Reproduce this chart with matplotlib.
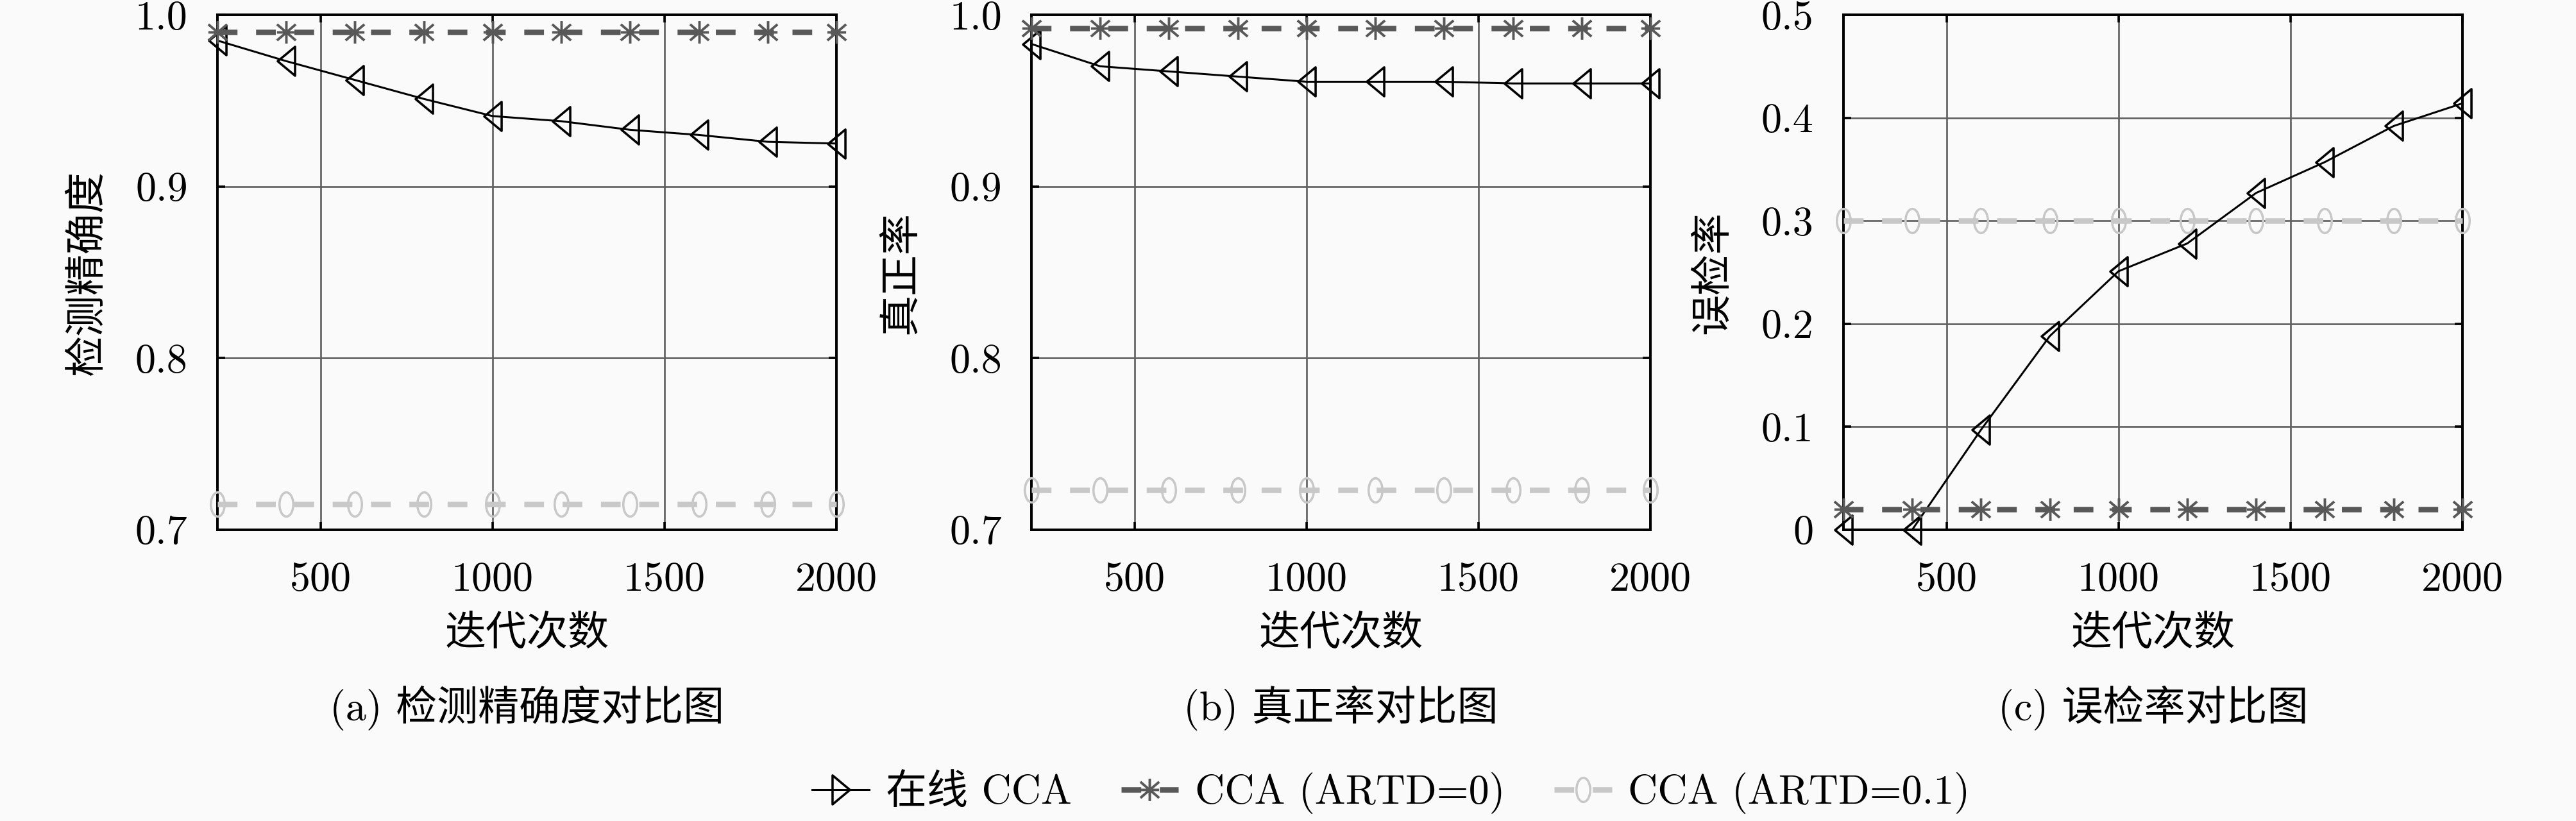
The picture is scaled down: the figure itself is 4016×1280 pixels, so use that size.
import matplotlib
matplotlib.use("Agg")
import matplotlib.pyplot as plt
from matplotlib.path import Path
from matplotlib.lines import Line2D
from matplotlib.ticker import FuncFormatter

plt.rcParams['font.family'] = ['cmr10', 'Noto Sans CJK SC', 'DejaVu Sans']
plt.rcParams['axes.unicode_minus'] = False

# 数据
iters = [200, 400, 600, 800, 1000, 1200, 1400, 1600, 1800, 2000]

acc_online = [0.985, 0.973, 0.962, 0.951, 0.941, 0.938, 0.933, 0.930, 0.926, 0.925]
acc_artd0 = [0.990, 0.990, 0.990, 0.990, 0.990, 0.990, 0.990, 0.990, 0.990, 0.990]
acc_artd01 = [0.715, 0.715, 0.715, 0.715, 0.715, 0.715, 0.715, 0.715, 0.715, 0.715]

tpr_online = [0.983, 0.970, 0.967, 0.964, 0.961, 0.961, 0.961, 0.960, 0.960, 0.960]
tpr_artd0 = [0.992, 0.992, 0.992, 0.992, 0.992, 0.992, 0.992, 0.992, 0.992, 0.992]
tpr_artd01 = [0.723, 0.723, 0.723, 0.723, 0.723, 0.723, 0.723, 0.723, 0.723, 0.723]

fpr_online = [0.0, 0.0, 0.097, 0.188, 0.251, 0.278, 0.327, 0.357, 0.392, 0.414]
fpr_artd0 = [0.02, 0.02, 0.02, 0.02, 0.02, 0.02, 0.02, 0.02, 0.02, 0.02]
fpr_artd01 = [0.30, 0.30, 0.30, 0.30, 0.30, 0.30, 0.30, 0.30, 0.30, 0.30]

series_names = ['在线 CCA', 'CCA (ARTD=0)', 'CCA (ARTD=0.1)']
ylabels = ['检测精确度', '真正率', '误检率']
captions = ['(a) 检测精确度对比图', '(b) 真正率对比图', '(c) 误检率对比图']
xticks = [500, 1000, 1500, 2000]
yticks_acc = [0.7, 0.8, 0.9, 1.0]
yticks_fpr = [0.0, 0.1, 0.2, 0.3, 0.4, 0.5]

# 拉长的标记形状
MV, LN, CL = Path.MOVETO, Path.LINETO, Path.CLOSEPOLY
tri_left = Path([(-0.3, 0), (0.3, 0.5), (0.3, -0.5), (-0.3, 0)], [MV, LN, LN, CL])
tri_right = Path([(0.3, 0), (-0.3, 0.5), (-0.3, -0.5), (0.3, 0)], [MV, LN, LN, CL])
circ = Path.unit_circle()
oval = Path(circ.vertices * [0.57, 1.0], circ.codes)
star = Path([(0, -0.5), (0, 0.5), (-0.42, -0.36), (0.42, 0.36), (-0.42, 0.36), (0.42, -0.36),
             (-0.42, 0), (0.42, 0)],
            [MV, LN, MV, LN, MV, LN, MV, LN])

c_dark = '#585858'
c_light = '#c8c8c8'
bg = '#fafafa'

dark_kw = dict(color=c_dark, lw=2.4, dashes=(3.6, 3.4), marker=star, ms=9.8,
               mfc='none', mec=c_dark, mew=1.1)
light_kw = dict(color=c_light, lw=2.4, dashes=(3.6, 3.4), marker=oval, ms=10.6,
                mfc='none', mec=c_light, mew=1.0)

fig = plt.figure(figsize=(4016 / 256, 1280 / 256), dpi=256, facecolor=bg)
lefts = [0.0844, 0.4004, 0.7156]
panels = [
    (acc_online, acc_artd0, acc_artd01, (0.7, 1.0), yticks_acc),
    (tpr_online, tpr_artd0, tpr_artd01, (0.7, 1.0), yticks_acc),
    (fpr_online, fpr_artd0, fpr_artd01, (0.0, 0.5), yticks_fpr),
]

for i, (online, a0, a01, ylim, yt) in enumerate(panels):
    ax = fig.add_axes([lefts[i], 0.3547, 0.2403, 0.6273], facecolor=bg)
    ax.plot(iters, online, color='black', lw=0.85, marker=tri_left, ms=12.7,
            mfc='none', mec='black', mew=1.0, clip_on=False, zorder=3)
    ax.plot(iters, a0, clip_on=False, zorder=3, **dark_kw)
    ax.plot(iters, a01, clip_on=False, zorder=3, **light_kw)

    ax.set_xlim(200, 2000)
    ax.set_ylim(*ylim)
    ax.set_xticks(xticks)
    ax.set_yticks(yt)
    ax.yaxis.set_major_formatter(FuncFormatter(lambda v, p: '0' if abs(v) < 1e-9 else f'{v:.1f}'))
    ax.grid(True, color='#606060', lw=0.75)
    ax.set_axisbelow(True)
    for s in ax.spines.values():
        s.set_linewidth(1.1)
        s.set_color('black')
    ax.tick_params(axis='both', direction='in', top=True, right=True, length=3.5,
                   width=1.0, pad=13, labelsize=18)
    ax.tick_params(axis='x', pad=14)

    ax.set_xlabel('迭代次数', fontsize=18)
    ax.xaxis.label.set_va('center')
    ax.xaxis.set_label_coords(0.5, -0.204)
    ax.set_ylabel(ylabels[i], fontsize=18)
    ax.yaxis.label.set_va('center')
    ax.yaxis.set_label_coords(-0.21, 0.5)
    ax.text(0.5, -0.346, captions[i], transform=ax.transAxes, ha='center', va='center',
            fontsize=18)

handles = [
    Line2D([], [], color='black', lw=0.85, marker=tri_right, ms=12.7, mfc='none',
           mec='black', mew=1.0),
    Line2D([], [], **dark_kw),
    Line2D([], [], **light_kw),
]
fig.legend(handles, series_names, loc='center', bbox_to_anchor=(0.54, 0.034), ncol=3,
           frameon=False, fontsize=18, handlelength=1.4, columnspacing=1.2,
           handletextpad=0.4, borderaxespad=0)

fig.savefig('out.png', dpi=256, facecolor=bg)
